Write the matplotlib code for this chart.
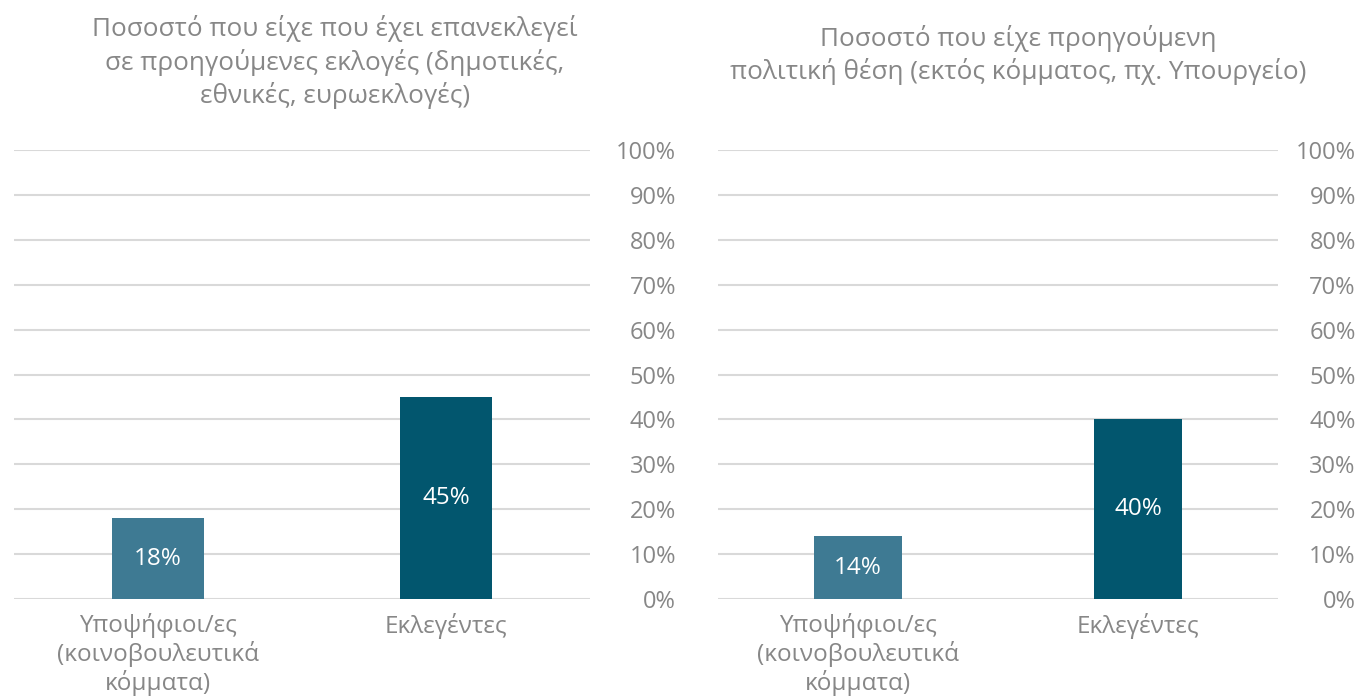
import matplotlib
matplotlib.use("Agg")
import matplotlib.pyplot as plt
from matplotlib.ticker import PercentFormatter

categories = ["Υποψήφιοι/ες\n(κοινοβουλευτικά\nκόμματα)", "Εκλεγέντες"]
values_left = [18, 45]
values_right = [14, 40]
title_left = "Ποσοστό που είχε που έχει επανεκλεγεί\nσε προηγούμενες εκλογές (δημοτικές,\nεθνικές, ευρωεκλογές)"
title_right = "Ποσοστό που είχε προηγούμενη\nπολιτική θέση (εκτός κόμματος, πχ. Υπουργείο)"
yticks = list(range(0, 101, 10))

colors = ["#3E7A93", "#02566E"]
gray = "#878787"
plt.rcParams['font.family'] = ['Open Sans', 'DejaVu Sans']

fig = plt.figure(figsize=(13.57, 7.0), dpi=100)
W, H = 1357, 700

def make(ax, vals, width, pad):
    x = list(range(len(categories)))
    bars = ax.bar(x, vals, width=width, color=colors, zorder=3)
    for b, v in zip(bars, vals):
        ax.text(b.get_x() + b.get_width() / 2, v / 2, f"{v}%", ha='center', va='center',
                color='white', fontsize=17.5, zorder=4)
    ax.set_xlim(-0.5, len(categories) - 0.5)
    ax.set_ylim(0, 100)
    ax.set_yticks(yticks)
    ax.yaxis.set_major_formatter(PercentFormatter(decimals=0))
    ax.yaxis.tick_right()
    ax.grid(axis='y', color='#D9D9D9', lw=1.5, zorder=0)
    for s in ax.spines.values():
        s.set_visible(False)
    ax.tick_params(axis='both', length=0, labelcolor=gray)
    ax.tick_params(axis='y', pad=pad, labelsize=17)
    for lab in ax.get_yticklabels():
        lab.set_horizontalalignment('right')
    ax.set_xticks(x)
    ax.set_xticklabels(categories, linespacing=1.15)
    ax.tick_params(axis='x', pad=10, labelsize=17.5)

ax1 = fig.add_axes([14 / W, 1 - 599 / H, 576 / W, 449 / H])
make(ax1, values_left, 0.316, 62)
ax2 = fig.add_axes([718 / W, 1 - 599 / H, 560 / W, 449 / H])
make(ax2, values_right, 0.315, 56)

fig.text(335 / W, 1 - 62 / H, title_left, ha='center', va='center', fontsize=18.8,
         color=gray, linespacing=1.33)
fig.text(1018 / W, 1 - 55 / H, title_right, ha='center', va='center', fontsize=18.8,
         color=gray, linespacing=1.33)

fig.savefig("out.png", dpi=100)
